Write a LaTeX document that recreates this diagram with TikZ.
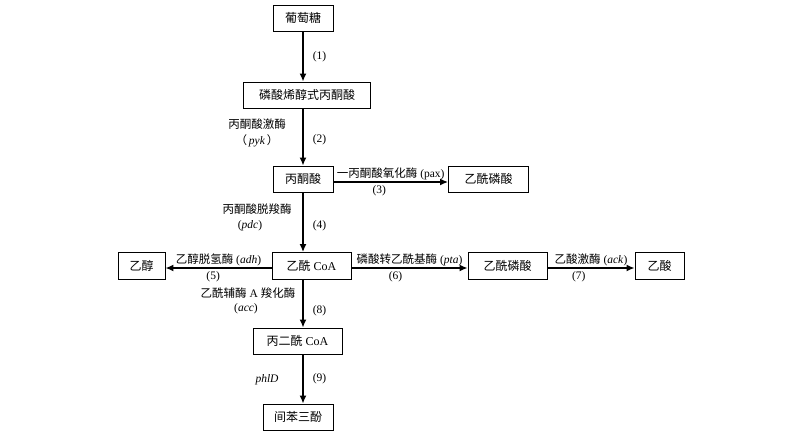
\documentclass[tikz,border=0pt]{standalone}
\usepackage{fontspec}
\setmainfont{Liberation Serif}
\newfontfamily\cjk{Noto Sans CJK SC}
\usetikzlibrary{arrows.meta}
\newcommand{\zw}[1]{{\cjk #1}}

\begin{document}
\begin{tikzpicture}[x=1pt, y=-1pt,
	box/.style={draw, line width=0.9pt, minimum height=27pt, inner sep=0pt,
		font=\fontsize{12}{14}\selectfont},
	flow/.style={line width=1.5pt, -{Latex[length=8pt,width=7pt]}},
	lab/.style={font=\fontsize{11.5}{13}\selectfont, inner sep=1pt}]
	\useasboundingbox (0,0) rectangle (800,434);
	
	% metabolites
	\node[box, minimum width=60, minimum height=26] (glc) at (303,18) {\zw{葡萄糖}};
	\node[box, minimum width=127, minimum height=26] (pep) at (307,95) {\zw{磷酸烯醇式丙酮酸}};
	\node[box, minimum width=60, minimum height=26] (pyr) at (303,179) {\zw{丙酮酸}};
	\node[box, minimum width=80, minimum height=26] (acp1) at (488.5,179) {\zw{乙酰磷酸}};
	\node[box, minimum width=47]  (eth)  at (141.5,266) {\zw{乙醇}};
	\node[box, minimum width=79]  (acoa) at (311.5,266) {\zw{乙酰} CoA};
	\node[box, minimum width=79]  (acp2) at (507.5,266) {\zw{乙酰磷酸}};
	\node[box, minimum width=49]  (ace)  at (659.5,266) {\zw{乙酸}};
	\node[box, minimum width=89, minimum height=26] (mcoa) at (297.5,341) {\zw{丙二酰} CoA};
	\node[box, minimum width=70, minimum height=26] (phg) at (298,417) {\zw{间苯三酚}};
	
	% main axis
	\draw[flow] (glc.south) -- (glc.south |- pep.north)
		node[lab, midway, right=8pt] {(1)};
	\draw[flow] (pep.south -| pyr) -- (pyr.north)
		node[lab, pos=0.55, right=8pt] {(2)};
	\draw[flow] (pyr.south) -- (pyr.south |- acoa.north)
		node[lab, pos=0.55, right=8pt] {(4)};
	\draw[flow] (pyr.south |- acoa.south) -- (pyr.south |- mcoa.north)
		node[lab, pos=0.65, right=8pt] {(8)};
	\draw[flow] (pyr.south |- mcoa.south) -- (pyr.south |- phg.north)
		node[lab, midway, right=8pt] {(9)};
	
	% side branches
	\draw[flow] ([yshift=-3pt]pyr.east) -- ([yshift=-3pt]acp1.west)
		node[lab, midway, above] {\zw{一丙酮酸氧化酶} (pax)}
		node[lab, pos=0.4, below=2pt] {(3)};
	\draw[flow] ([yshift=-2pt]acoa.west) -- ([yshift=-2pt]eth.east)
		node[lab, midway, above] {\zw{乙醇脱氢酶} (\textit{adh})}
		node[lab, pos=0.55, below=2pt] {(5)};
	\draw[flow] ([yshift=-2pt]acoa.east) -- ([yshift=-2pt]acp2.west)
		node[lab, midway, above] {\zw{磷酸转乙酰基酶} (\textit{pta})}
		node[lab, pos=0.38, below=2pt] {(6)};
	\draw[flow] ([yshift=-2pt]acp2.east) -- ([yshift=-2pt]ace.west)
		node[lab, midway, above] {\zw{乙酸激酶} (\textit{ack})}
		node[lab, pos=0.36, below=2pt] {(7)};
	
	% enzymes on the left of the axis
	\node[lab] (pyk)  at (257,124) {\zw{丙酮酸激酶}};
	\node[lab] (pykg) at (257,141) {\zw{（}\,\textit{pyk}\,\zw{）}};
	\node[lab] (pdc)  at (257,209) {\zw{丙酮酸脱羧酶}};
	\node[lab] (pdcg) at (250,226) {(\textit{pdc})};
	\node[lab] (acc)  at (248,293) {\zw{乙酰辅酶} A \zw{羧化酶}};
	\node[lab] (accg) at (246,309) {(\textit{acc})};
	\node[lab] (phl)  at (267,380) {\textit{phlD}};
\end{tikzpicture}
\end{document}
